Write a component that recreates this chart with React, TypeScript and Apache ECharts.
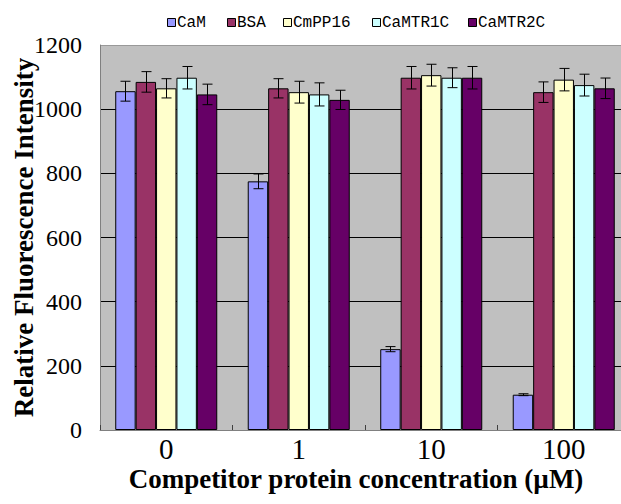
import React, { useEffect, useRef } from "react";
import * as echarts from "echarts";

const categories = ["0", "1", "10", "100"];
const seriesNames = ["CaM", "BSA", "CmPP16", "CaMTR1C", "CaMTR2C"];
const camValues = [1056, 775, 252, 110];
const camErrors = [31, 23, 8, 3];
const bsaValues = [1085, 1065, 1098, 1053];
const bsaErrors = [32, 30, 35, 32];
const cmpp16Values = [1065, 1053, 1106, 1092];
const cmpp16Errors = [30, 34, 34, 35];
const camtr1cValues = [1098, 1046, 1098, 1075];
const camtr1cErrors = [35, 36, 31, 34];
const camtr2cValues = [1046, 1029, 1098, 1065];
const camtr2cErrors = [32, 30, 35, 32];
const yTicks = [0, 200, 400, 600, 800, 1000, 1200];

const colors = ["#9999FF", "#993366", "#FFFFCC", "#CCFFFF", "#660066"];
const legendLefts = [167, 227, 283, 372, 468];
const SERIF = "Liberation Serif";
const MONO = "Liberation Mono";

export default function App() {
  const ref = useRef<HTMLDivElement>(null);
  useEffect(() => {
    if (!ref.current) return;
    const chart = echarts.init(ref.current, null, { renderer: "svg" });
    const values = [camValues, bsaValues, cmpp16Values, camtr1cValues, camtr2cValues];
    const errors = [camErrors, bsaErrors, cmpp16Errors, camtr1cErrors, camtr2cErrors];
    const gapPct = 0.23;

    const barSeries = seriesNames.map((name, i) => ({
      name,
      type: "bar",
      data: values[i],
      barGap: "0%",
      barCategoryGap: "23%",
      itemStyle: { color: colors[i], borderColor: "#000", borderWidth: 1 },
      z: 2,
    }));

    const errSeries = seriesNames.map((name, i) => ({
      name: name + " error",
      type: "custom",
      z: 3,
      encode: { x: 0, y: [1, 2] },
      data: values[i].map((v, k) => [k, v - errors[i][k], v + errors[i][k]]),
      renderItem: (params: any, api: any) => {
        const idx = api.value(0);
        const lo = api.coord([idx, api.value(1)]);
        const hi = api.coord([idx, api.value(2)]);
        const band = api.size([1, 0])[0];
        const bw = (band * (1 - gapPct)) / seriesNames.length;
        const cx = Math.round(lo[0] + (i - 2) * bw) + 0.5;
        const hw = 5;
        const st = { stroke: "#000", lineWidth: 1 };
        return {
          type: "group",
          children: [
            { type: "line", shape: { x1: cx, y1: hi[1], x2: cx, y2: lo[1] }, style: st },
            { type: "line", shape: { x1: cx - hw, y1: hi[1], x2: cx + hw, y2: hi[1] }, style: st },
            { type: "line", shape: { x1: cx - hw, y1: lo[1], x2: cx + hw, y2: lo[1] }, style: st },
          ],
        };
      },
    }));

    const legendGraphics: any[] = [];
    seriesNames.forEach((name, i) => {
      legendGraphics.push({
        type: "rect",
        shape: { x: legendLefts[i] + 0.5, y: 18.5, width: 8, height: 8 },
        style: { fill: colors[i], stroke: "#000", lineWidth: 1 },
      });
      legendGraphics.push({
        type: "text",
        x: legendLefts[i] + 10,
        y: 22.5,
        style: {
          text: name,
          fontFamily: MONO,
          fontSize: 16,
          fill: "#000",
          textAlign: "left",
          textVerticalAlign: "middle",
        },
      });
    });

    chart.setOption({
      animation: false,
      grid: {
        left: 100,
        top: 45,
        width: 530,
        height: 385,
        outerBoundsMode: "none",
        containLabel: false,
        show: true,
        backgroundColor: "#C0C0C0",
        borderWidth: 0,
      },
      xAxis: {
        type: "category",
        data: categories,
        axisLine: { lineStyle: { color: "#808080", width: 1 } },
        axisTick: { show: true, inside: true, length: 5, lineStyle: { color: "#404040" } },
        axisLabel: { fontFamily: SERIF, fontSize: 29, color: "#000", margin: 6, lineHeight: 26 },
      },
      yAxis: {
        type: "value",
        min: 0,
        max: 1200,
        interval: 200,
        name: "Relative Fluorescence Intensity",
        nameLocation: "middle",
        nameGap: 63,
        nameMoveOverlap: false,
        nameTextStyle: { fontFamily: SERIF, fontSize: 27, fontWeight: "bold", color: "#000" },
        axisLine: { show: true, lineStyle: { color: "#808080", width: 1 } },
        axisTick: { show: false },
        axisLabel: {
          fontFamily: SERIF,
          fontSize: 24,
          color: "#000",
          margin: 18,
          formatter: (v: number) => (yTicks.includes(v) ? String(v) : ""),
        },
        splitLine: {
          show: true,
          lineStyle: { color: ["#000", "#000", "#000", "#000", "#000", "#000", "#999"], width: 1 },
        },
      },
      graphic: [
        ...legendGraphics,
        {
          type: "text",
          x: 356,
          y: 479,
          style: {
            text: "Competitor protein concentration (\u00b5M)",
            fontFamily: SERIF,
            fontSize: 27,
            fontWeight: "bold",
            fill: "#000",
            textAlign: "center",
            textVerticalAlign: "middle",
            lineHeight: 24,
          },
        },
      ],
      series: [...barSeries, ...errSeries],
    });
    return () => chart.dispose();
  }, []);
  return <div ref={ref} style={{ width: 621, height: 504, position: "absolute", left: 0, top: 0 }} />;
}
